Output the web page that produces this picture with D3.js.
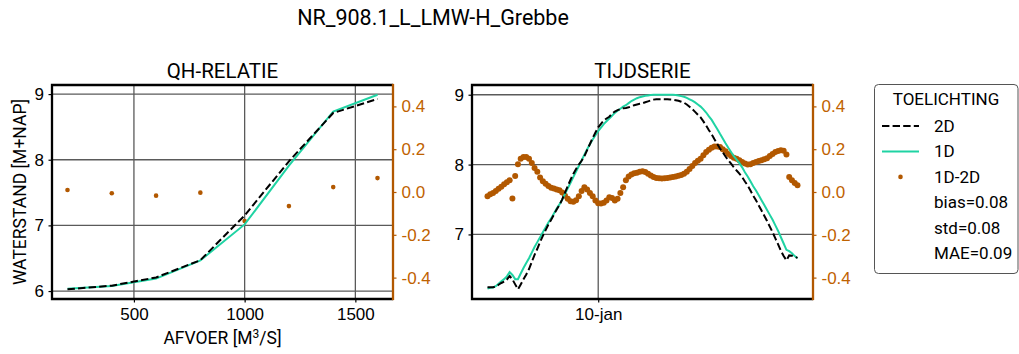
<!DOCTYPE html>
<html>
<head>
<meta charset="utf-8">
<script src="https://cdn.jsdelivr.net/npm/d3@7"></script>
<style>
  html, body { margin: 0; padding: 0; background: #fff; }
  svg { display: block; font-family: Roboto, "DejaVu Sans", sans-serif; }
</style>
</head>
<body>
<svg id="chart" width="1019" height="354"></svg>
<script>
// ---------- data ----------
const chartTitle = "NR_908.1_L_LMW-H_Grebbe";
const qhTitle = "QH-RELATIE";
const tsTitle = "TIJDSERIE";
const qhXLabel = ["AFVOER [M", "3", "/S]"];
const yLabel = "WATERSTAND [M+NAP]";

// QH relation: discharge (m3/s) vs water level (m+NAP)
const qhAfvoer = [200, 400, 600, 800, 1000, 1200, 1400, 1600];
const qh2D     = [6.027, 6.082, 6.207, 6.470, 7.151, 7.976, 8.712, 8.925];
const qh1D     = [6.036, 6.076, 6.190, 6.467, 7.015, 7.910, 8.735, 8.990];
const qhDiff   = [0.009, -0.006, -0.017, -0.003, -0.136, -0.066, 0.023, 0.065];

// tick values
const qhXTicks = [500, 1000, 1500];
const qhLevelTicks = [6, 7, 8, 9];
const tsLevelTicks = [7, 8, 9];
const diffTicks = [-0.4, -0.2, 0.0, 0.2, 0.4];
const tsTickDates = ["2021-01-10T00:00:00"];

// time series, one value every 3 hours
const tsStart = "2021-01-05T00:00:00";
const tsStepHours = 3;
const ts2D = [
  6.245, 6.245, 6.245, 6.255, 6.280, 6.305, 6.324, 6.355, 6.405, 6.358,
  6.285, 6.215, 6.285, 6.357, 6.426, 6.505, 6.605, 6.708, 6.795, 6.892,
  6.980, 7.062, 7.142, 7.210, 7.284, 7.358, 7.422, 7.502, 7.597, 7.692,
  7.783, 7.866, 7.938, 8.000, 8.055, 8.118, 8.208, 8.295, 8.380, 8.460,
  8.532, 8.584, 8.630, 8.660, 8.685, 8.728, 8.760, 8.780, 8.795, 8.805,
  8.810, 8.820, 8.835, 8.850, 8.860, 8.870, 8.878, 8.892, 8.905, 8.918,
  8.930, 8.934, 8.936, 8.937, 8.936, 8.934, 8.932, 8.930, 8.922, 8.914,
  8.900, 8.885, 8.860, 8.827, 8.793, 8.755, 8.714, 8.675, 8.618, 8.558,
  8.492, 8.433, 8.362, 8.297, 8.230, 8.175, 8.115, 8.062, 8.012, 7.960,
  7.915, 7.872, 7.820, 7.757, 7.702, 7.630, 7.554, 7.490, 7.415, 7.342,
  7.267, 7.192, 7.112, 7.032, 6.943, 6.858, 6.765, 6.690, 6.630, 6.700,
  6.695, 6.680, 6.665
];
const ts1D = [
  6.225, 6.235, 6.240, 6.260, 6.295, 6.330, 6.360, 6.400, 6.460, 6.420,
  6.360, 6.360, 6.440, 6.520, 6.590, 6.660, 6.740, 6.820, 6.890, 6.960,
  7.030, 7.100, 7.170, 7.230, 7.300, 7.370, 7.430, 7.500, 7.580, 7.660,
  7.740, 7.820, 7.900, 7.980, 8.060, 8.140, 8.220, 8.290, 8.360, 8.420,
  8.480, 8.530, 8.580, 8.620, 8.660, 8.700, 8.740, 8.770, 8.800, 8.830,
  8.850, 8.880, 8.910, 8.930, 8.950, 8.965, 8.975, 8.985, 8.990, 8.995,
  9.000, 9.000, 9.000, 9.000, 9.000, 9.000, 9.000, 9.000, 8.995, 8.990,
  8.980, 8.970, 8.955, 8.935, 8.915, 8.890, 8.860, 8.830, 8.790, 8.745,
  8.690, 8.640, 8.575, 8.510, 8.440, 8.375, 8.305, 8.240, 8.180, 8.120,
  8.070, 8.020, 7.960, 7.890, 7.830, 7.760, 7.690, 7.630, 7.560, 7.490,
  7.420, 7.350, 7.280, 7.210, 7.130, 7.050, 6.960, 6.870, 6.780, 6.760,
  6.730, 6.690, 6.660
];
const tsDiff = [
  -0.020, -0.010, -0.005, 0.005, 0.015, 0.025, 0.036, 0.045, 0.055, -0.030,
  0.075, 0.130, 0.155, 0.163, 0.164, 0.155, 0.135, 0.112, 0.095, 0.068,
  0.050, 0.038, 0.028, 0.020, 0.016, 0.012, 0.008, -0.002, -0.017, -0.032,
  -0.043, -0.046, -0.038, -0.020, 0.005, 0.022, 0.012, -0.005, -0.020, -0.040,
  -0.052, -0.054, -0.050, -0.040, -0.025, -0.028, -0.040, -0.032, -0.005, 0.022,
  0.055, 0.072, 0.082, 0.088, 0.090, 0.095, 0.097, 0.093, 0.085, 0.077,
  0.070, 0.066, 0.064, 0.063, 0.064, 0.066, 0.068, 0.070, 0.073, 0.076,
  0.080, 0.085, 0.095, 0.108, 0.122, 0.135, 0.146, 0.155, 0.172, 0.187,
  0.198, 0.207, 0.213, 0.213, 0.210, 0.200, 0.190, 0.178, 0.168, 0.160,
  0.155, 0.148, 0.140, 0.133, 0.128, 0.130, 0.136, 0.140, 0.145, 0.148,
  0.153, 0.158, 0.168, 0.178, 0.187, 0.192, 0.195, 0.193, 0.175, 0.070,
  0.055, 0.042, 0.031
];

// legend
const legendTitle = "TOELICHTING";
const legendSeries = ["2D", "1D", "1D-2D"];
const legendStats = ["bias=0.08", "std=0.08", "MAE=0.09"];

// ---------- style ----------
const col2D = "#000000";
const col1D = "#1fd3a3";
const colDiff = "#b25800";
const colDiffText = "#bf6200";
const colGrid = "#5a5a5a";
const dashPattern = "7.4,3.2";

// Dutch month abbreviations for the date axis
const nlLocale = d3.timeFormatLocale({
  dateTime: "%a %e %B %Y %X", date: "%d-%m-%Y", time: "%H:%M:%S",
  periods: ["AM", "PM"],
  days: ["zondag","maandag","dinsdag","woensdag","donderdag","vrijdag","zaterdag"],
  shortDays: ["zo","ma","di","wo","do","vr","za"],
  months: ["januari","februari","maart","april","mei","juni","juli","augustus","september","oktober","november","december"],
  shortMonths: ["jan","feb","mrt","apr","mei","jun","jul","aug","sep","okt","nov","dec"]
});
const fmtDate = nlLocale.format("%d-%b");

const svg = d3.select("#chart");
svg.append("rect").attr("width", 1019).attr("height", 354).attr("fill", "#fff");

// padded extent, 5% on each side
function padded(ext) {
  const p = (ext[1] - ext[0]) * 0.05;
  return [ext[0] - p, ext[1] + p];
}
function padTime(ext) {
  const p = (ext[1] - ext[0]) * 0.05;
  return [new Date(+ext[0] - p), new Date(+ext[1] + p)];
}

const plotTop = 85, plotBottom = 299;
const panelL = { x0: 52, x1: 393 };
const panelR = { x0: 472, x1: 813 };

const tickFont = 17;

function styleAxis(g, color) {
  g.select(".domain").remove();
  g.selectAll(".tick line").attr("stroke", color).attr("stroke-width", 1.2);
  g.selectAll(".tick text").attr("fill", color).attr("font-size", tickFont);
}

function drawPanel(p, opts) {
  const g = svg.append("g");
  const x = opts.x, y = opts.y;
  const yr = d3.scaleLinear().domain([-0.5, 0.5]).range([plotBottom, plotTop]);

  // grid
  g.append("g").selectAll("line").data(opts.yTicks).join("line")
    .attr("x1", p.x0).attr("x2", p.x1)
    .attr("y1", d => y(d)).attr("y2", d => y(d))
    .attr("stroke", colGrid).attr("stroke-width", 1.3);
  g.append("g").selectAll("line").data(opts.xTicks).join("line")
    .attr("x1", d => x(d)).attr("x2", d => x(d))
    .attr("y1", plotTop).attr("y2", plotBottom)
    .attr("stroke", colGrid).attr("stroke-width", 1.3);

  // difference (right axis)
  g.append("g").selectAll("circle").data(opts.diff).join("circle")
    .attr("cx", d => x(d[0])).attr("cy", d => yr(d[1]))
    .attr("r", opts.dotR).attr("fill", colDiff);

  // water levels
  const line = d3.line().x(d => x(d[0])).y(d => y(d[1]));
  g.append("path").datum(opts.l1D).attr("d", line)
    .attr("fill", "none").attr("stroke", col1D).attr("stroke-width", 2);
  g.append("path").datum(opts.l2D).attr("d", line)
    .attr("fill", "none").attr("stroke", col2D).attr("stroke-width", 2)
    .attr("stroke-dasharray", dashPattern);

  // axes
  const ax = g.append("g").attr("transform", `translate(0,${plotBottom})`)
    .call(d3.axisBottom(x).tickValues(opts.xTicks).tickFormat(opts.xFmt)
      .tickSizeOuter(0).tickSize(3.5).tickPadding(5));
  styleAxis(ax, "#000");
  const ay = g.append("g").attr("transform", `translate(${p.x0},0)`)
    .call(d3.axisLeft(y).tickValues(opts.yTicks).tickFormat(d3.format("d"))
      .tickSizeOuter(0).tickSize(3.5).tickPadding(4.5));
  styleAxis(ay, "#000");
  const ar = g.append("g").attr("transform", `translate(${p.x1},0)`)
    .call(d3.axisRight(yr).tickValues(diffTicks).tickFormat(d3.format(".1f"))
      .tickSizeOuter(0).tickSize(3.5).tickPadding(5));
  styleAxis(ar, colDiffText);
  ar.selectAll(".tick line").attr("stroke", colDiff);
  ar.selectAll(".tick text").text(d => d3.format(".1f")(d).replace("−", "-"));

  // frame
  g.append("path")
    .attr("d", `M${p.x1},${plotTop}H${p.x0}V${plotBottom}H${p.x1}`)
    .attr("fill", "none").attr("stroke", "#000").attr("stroke-width", 2.3);
  g.append("line").attr("x1", p.x1).attr("x2", p.x1)
    .attr("y1", plotTop - 1.15).attr("y2", plotBottom + 1.15)
    .attr("stroke", colDiff).attr("stroke-width", 2.3);

  // panel title
  g.append("text").attr("x", (p.x0 + p.x1) / 2).attr("y", 78)
    .attr("text-anchor", "middle").attr("font-size", 20.5).attr("fill", "#000")
    .text(opts.title);
  return g;
}

// ---------- left panel: QH relation ----------
const xQ = d3.scaleLinear().domain(padded(d3.extent(qhAfvoer))).range([panelL.x0, panelL.x1]);
const yQ = d3.scaleLinear().domain(padded(d3.extent(qh1D.concat(qh2D)))).range([plotBottom, plotTop]);
drawPanel(panelL, {
  x: xQ, y: yQ, title: qhTitle,
  xTicks: qhXTicks, yTicks: qhLevelTicks, xFmt: d3.format("d"),
  l1D: qhAfvoer.map((q, i) => [q, qh1D[i]]),
  l2D: qhAfvoer.map((q, i) => [q, qh2D[i]]),
  diff: qhAfvoer.map((q, i) => [q, qhDiff[i]]),
  dotR: 2.3
});

// ---------- right panel: time series ----------
const t0 = new Date(tsStart);
const tsTimes = ts1D.map((_, i) => d3.timeHour.offset(t0, i * tsStepHours));
const xT = d3.scaleTime().domain(padTime(d3.extent(tsTimes))).range([panelR.x0, panelR.x1]);
const yT = d3.scaleLinear().domain(padded(d3.extent(ts1D.concat(ts2D)))).range([plotBottom, plotTop]);
drawPanel(panelR, {
  x: xT, y: yT, title: tsTitle,
  xTicks: tsTickDates.map(s => new Date(s)), yTicks: tsLevelTicks, xFmt: fmtDate,
  l1D: tsTimes.map((t, i) => [t, ts1D[i]]),
  l2D: tsTimes.map((t, i) => [t, ts2D[i]]),
  diff: tsTimes.map((t, i) => [t, tsDiff[i]]),
  dotR: 3.0
});

// ---------- labels ----------
svg.append("text").attr("x", 433).attr("y", 25).attr("text-anchor", "middle")
  .attr("font-size", 21.5).attr("fill", "#000").text(chartTitle);

const xl = svg.append("text").attr("x", (panelL.x0 + panelL.x1) / 2).attr("y", 344)
  .attr("text-anchor", "middle").attr("font-size", 17.5).attr("fill", "#000");
xl.append("tspan").text(qhXLabel[0]);
xl.append("tspan").attr("dy", -6).attr("font-size", 12).text(qhXLabel[1]);
xl.append("tspan").attr("dy", 6).text(qhXLabel[2]);

svg.append("text").attr("transform", `translate(26,${(plotTop + plotBottom) / 2}) rotate(-90)`)
  .attr("text-anchor", "middle").attr("font-size", 17.5).attr("fill", "#000").text(yLabel);

// ---------- legend ----------
const lg = svg.append("g");
lg.append("rect").attr("x", 874.5).attr("y", 84.5).attr("width", 143.5).attr("height", 189)
  .attr("rx", 4).attr("fill", "#fff").attr("stroke", "#555").attr("stroke-width", 1);
lg.append("text").attr("x", 946).attr("y", 99).attr("dy", "0.35em").attr("text-anchor", "middle")
  .attr("font-size", 17).attr("fill", "#000").text(legendTitle);

const rowY = i => 126 + i * 25.45;
const mk0 = 882, mk1 = 919, txtX = 934;
lg.append("line").attr("x1", mk0).attr("x2", mk1).attr("y1", rowY(0)).attr("y2", rowY(0))
  .attr("stroke", col2D).attr("stroke-width", 2).attr("stroke-dasharray", dashPattern);
lg.append("line").attr("x1", mk0).attr("x2", mk1).attr("y1", rowY(1)).attr("y2", rowY(1))
  .attr("stroke", col1D).attr("stroke-width", 2);
lg.append("circle").attr("cx", (mk0 + mk1) / 2).attr("cy", rowY(2)).attr("r", 2.3).attr("fill", colDiff);
lg.selectAll("text.item").data(legendSeries.concat(legendStats)).join("text")
  .attr("class", "item").attr("x", txtX).attr("y", (d, i) => rowY(i)).attr("dy", "0.35em")
  .attr("font-size", 17).attr("fill", "#000").text(d => d);
</script>
</body>
</html>
